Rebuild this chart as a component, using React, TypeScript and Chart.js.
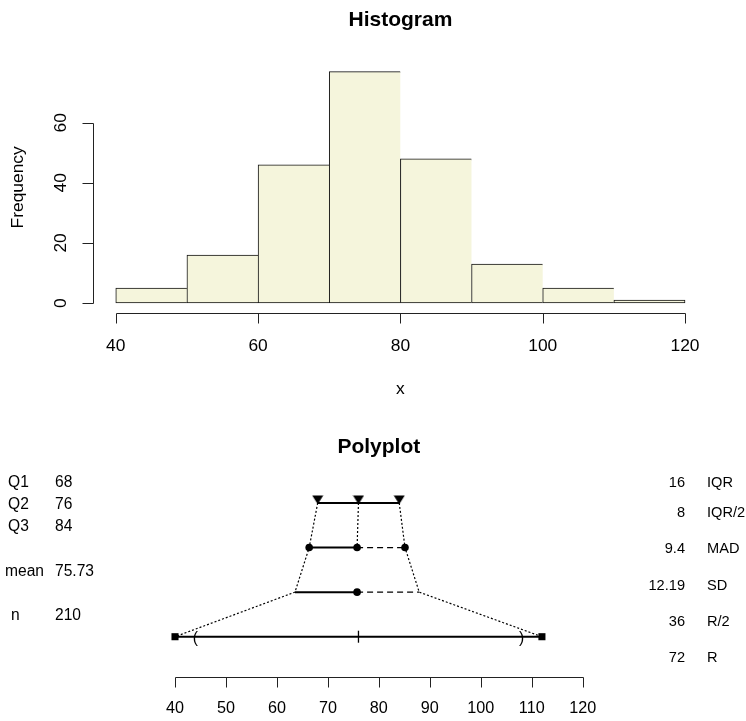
import React, { useEffect, useRef } from 'react';
import { Chart, registerables } from 'chart.js';

Chart.register(...registerables);

// ---------- data ----------
const binStarts = [40, 50, 60, 70, 80, 90, 100, 110];
const binWidth = 10;
const frequencies = [5, 16, 46, 77, 48, 13, 5, 1];
const histXTicks = [40, 60, 80, 100, 120];
const histYTicks = [0, 20, 40, 60];

const quartiles = [68, 76, 84];
const meanValue = 75.73;
const madValue = 9.4;
const sdValue = 12.19;
const rangeEnds = [40, 112];
const parenMarks = [44, 108];
const polyTicks = [40, 50, 60, 70, 80, 90, 100, 110, 120];

const leftLabels = ['Q1', 'Q2', 'Q3', 'mean', 'n'];
const leftValues = ['68', '76', '84', '75.73', '210'];
const rightValues = ['16', '8', '9.4', '12.19', '36', '72'];
const rightLabels = ['IQR', 'IQR/2', 'MAD', 'SD', 'R/2', 'R'];

// rows of the polyplot (y values)
const rowQuart = 4;
const rowMad = 3;
const rowSd = 2;
const rowRange = 1;

// ---------- layout ----------
const W = 746;
const H1 = 420;
const H2 = 301;
const FONT = '"Liberation Sans", Arial, sans-serif';
const leftLabelX = [8, 8, 8, 5, 11];
const leftLabelY = [62.7, 84.3, 106.7, 151.7, 195.3];
const rightY = [62.7, 93.3, 129.3, 165.7, 202.3, 238.3];

function makeTriangle(): HTMLCanvasElement {
  const c = document.createElement('canvas');
  c.width = 12;
  c.height = 20;
  const g = c.getContext('2d')!;
  g.fillStyle = '#000';
  g.beginPath();
  g.moveTo(0.5, 2.4);
  g.lineTo(11.5, 2.4);
  g.lineTo(6, 11.2);
  g.closePath();
  g.fill();
  return c;
}

const histAxesPlugin = {
  id: 'histAxes',
  afterDraw(chart: any) {
    const ctx = chart.ctx;
    const xs = chart.scales.x;
    const ys = chart.scales.y;
    const a = chart.chartArea;
    ctx.save();
    ctx.strokeStyle = '#222';
    ctx.fillStyle = '#000';
    ctx.lineWidth = 1;
    // y axis
    const xl = Math.round(a.left) + 0.5;
    ctx.beginPath();
    ctx.moveTo(xl, Math.round(ys.getPixelForValue(histYTicks[0])) + 0.5);
    ctx.lineTo(xl, Math.round(ys.getPixelForValue(histYTicks[histYTicks.length - 1])) + 0.5);
    histYTicks.forEach((t) => {
      const py = Math.round(ys.getPixelForValue(t)) + 0.5;
      ctx.moveTo(xl, py);
      ctx.lineTo(xl - 11, py);
    });
    // x axis
    const yb = Math.round(a.bottom + 1) + 0.5;
    ctx.moveTo(Math.round(xs.getPixelForValue(histXTicks[0])) + 0.5, yb);
    ctx.lineTo(Math.round(xs.getPixelForValue(histXTicks[histXTicks.length - 1])) + 0.5, yb);
    histXTicks.forEach((t) => {
      const px = Math.round(xs.getPixelForValue(t)) + 0.5;
      ctx.moveTo(px, yb);
      ctx.lineTo(px, yb + 10);
    });
    ctx.stroke();

    ctx.font = `17.4px ${FONT}`;
    ctx.textAlign = 'center';
    ctx.textBaseline = 'middle';
    histXTicks.forEach((t) => {
      ctx.fillText(String(t), xs.getPixelForValue(t), a.bottom + 34);
    });
    histYTicks.forEach((t) => {
      ctx.save();
      ctx.translate(a.left - 31.5, ys.getPixelForValue(t));
      ctx.rotate(-Math.PI / 2);
      ctx.fillText(String(t), 0, 0);
      ctx.restore();
    });
    // axis titles
    ctx.fillText('x', (a.left + a.right) / 2, a.bottom + 77);
    ctx.save();
    ctx.translate(18.5, (a.top + a.bottom) / 2);
    ctx.rotate(-Math.PI / 2);
    ctx.fillText('Frequency', 0, 0);
    ctx.restore();
    // main title
    ctx.font = `bold 21px ${FONT}`;
    ctx.fillText('Histogram', (a.left + a.right) / 2, 20);
    ctx.restore();
  },
};

const polyPlugin = {
  id: 'polyAxes',
  afterDraw(chart: any) {
    const ctx = chart.ctx;
    const xs = chart.scales.x;
    const ys = chart.scales.y;
    const a = chart.chartArea;
    ctx.save();
    ctx.strokeStyle = '#222';
    ctx.fillStyle = '#000';
    ctx.lineWidth = 1;
    const yb = Math.round(a.bottom + 18) + 0.5;
    ctx.beginPath();
    ctx.moveTo(Math.round(xs.getPixelForValue(polyTicks[0])) + 0.5, yb);
    ctx.lineTo(Math.round(xs.getPixelForValue(polyTicks[polyTicks.length - 1])) + 0.5, yb);
    polyTicks.forEach((t) => {
      const px = Math.round(xs.getPixelForValue(t)) + 0.5;
      ctx.moveTo(px, yb);
      ctx.lineTo(px, yb + 10);
    });
    ctx.stroke();
    ctx.font = `16.2px ${FONT}`;
    ctx.textAlign = 'center';
    ctx.textBaseline = 'middle';
    polyTicks.forEach((t) => {
      ctx.fillText(String(t), xs.getPixelForValue(t), a.bottom + 50);
    });
    // parentheses marks on the range row
    ctx.font = `15.6px ${FONT}`;
    parenMarks.forEach((v, i) => {
      ctx.fillText(i === 0 ? '(' : ')', xs.getPixelForValue(v), ys.getPixelForValue(rowRange) + 2);
    });
    // left statistics
    ctx.textAlign = 'left';
    leftLabels.forEach((l, i) => {
      ctx.fillText(l, leftLabelX[i], leftLabelY[i]);
      ctx.fillText(leftValues[i], 55, leftLabelY[i]);
    });
    // right statistics
    ctx.font = `14.6px ${FONT}`;
    rightValues.forEach((v, i) => {
      ctx.textAlign = 'right';
      ctx.fillText(v, 685, rightY[i]);
      ctx.textAlign = 'left';
      ctx.fillText(rightLabels[i], 707, rightY[i]);
    });
    // title
    ctx.textAlign = 'center';
    ctx.font = `bold 21px ${FONT}`;
    ctx.fillText(
      'Polyplot',
      (xs.getPixelForValue(polyTicks[0]) + xs.getPixelForValue(polyTicks[polyTicks.length - 1])) / 2,
      27
    );
    ctx.restore();
  },
};

export default function App() {
  const ref1 = useRef<HTMLCanvasElement>(null);
  const ref2 = useRef<HTMLCanvasElement>(null);

  useEffect(() => {
    const last = frequencies.length - 1;
    const hist = new Chart(ref1.current!, {
      type: 'bar',
      data: {
        datasets: [
          {
            data: frequencies.map((f, i) => ({ x: binStarts[i] + binWidth / 2, y: f })),
            backgroundColor: '#F5F5DC',
            borderColor: '#111',
            borderWidth: (c: any) => ({ top: 1, left: 1, bottom: 1, right: c.dataIndex === last ? 1 : 0 }),
            borderSkipped: false,
            barPercentage: 1,
            categoryPercentage: 1,
          } as any,
        ],
      },
      options: {
        animation: false,
        responsive: false,
        devicePixelRatio: 1,
        layout: { padding: { left: 93, right: W - 707.8, top: 62.4, bottom: H1 - 312.3 } },
        plugins: { legend: { display: false }, tooltip: { enabled: false } },
        scales: {
          x: { type: 'linear', min: 36.8, max: 123.2, offset: false, display: false },
          y: { min: -3.08, max: 80.08, display: false },
        },
      },
      plugins: [histAxesPlugin],
    } as any);

    const tri = makeTriangle();
    const madL = meanValue - madValue;
    const madR = meanValue + madValue;
    const sdL = meanValue - sdValue;
    const sdR = meanValue + sdValue;
    const dotted = { borderColor: '#000', borderWidth: 1.2, borderDash: [2, 2], pointRadius: 0, showLine: true, clip: false };
    const solid = { borderColor: '#000', borderWidth: 2, pointRadius: 0, showLine: true, clip: false };
    const dashed = { borderColor: '#000', borderWidth: 1.2, borderDash: [6, 4], pointRadius: 0, showLine: true, clip: false };
    const dots = { showLine: false, pointStyle: 'circle', pointRadius: 3.8, pointBackgroundColor: '#000', pointBorderColor: '#000', pointBorderWidth: 0, clip: false };

    const poly = new Chart(ref2.current!, {
      type: 'scatter',
      data: {
        datasets: [
          { ...dotted, data: [{ x: quartiles[0], y: rowQuart }, { x: madL, y: rowMad }, { x: sdL, y: rowSd }, { x: rangeEnds[0], y: rowRange }] },
          { ...dotted, data: [{ x: quartiles[1], y: rowQuart }, { x: meanValue, y: rowMad }] },
          { ...dotted, data: [{ x: quartiles[2], y: rowQuart }, { x: madR, y: rowMad }, { x: sdR, y: rowSd }, { x: rangeEnds[1], y: rowRange }] },
          { ...solid, data: [{ x: quartiles[0], y: rowQuart }, { x: quartiles[2], y: rowQuart }] },
          { ...solid, data: [{ x: madL, y: rowMad }, { x: meanValue, y: rowMad }] },
          { ...dashed, data: [{ x: meanValue, y: rowMad }, { x: madR, y: rowMad }] },
          { ...solid, data: [{ x: sdL, y: rowSd }, { x: meanValue, y: rowSd }] },
          { ...dashed, data: [{ x: meanValue, y: rowSd }, { x: sdR, y: rowSd }] },
          { ...solid, data: [{ x: rangeEnds[0], y: rowRange }, { x: rangeEnds[1], y: rowRange }] },
          {
            showLine: false, clip: false, pointStyle: 'line', pointRotation: 90, pointRadius: 6,
            pointBorderColor: '#000', pointBorderWidth: 1.3,
            data: [{ x: quartiles[1], y: rowRange }],
          },
          { ...dots, data: [{ x: madL, y: rowMad }, { x: meanValue, y: rowMad }, { x: madR, y: rowMad }] },
          { ...dots, data: [{ x: meanValue, y: rowSd }] },
          {
            showLine: false, clip: false, pointStyle: 'rect', pointRadius: 5,
            pointBackgroundColor: '#000', pointBorderColor: '#000', pointBorderWidth: 0,
            data: rangeEnds.map((v) => ({ x: v, y: rowRange })),
          },
          { showLine: false, clip: false, pointStyle: tri, pointRadius: 6, data: quartiles.map((q) => ({ x: q, y: rowQuart })) },
        ],
      },
      options: {
        animation: false,
        responsive: false,
        devicePixelRatio: 1,
        layout: { padding: { left: 158.7, right: W - 599, top: 60.7, bottom: H2 - 239 } },
        plugins: { legend: { display: false }, tooltip: { enabled: false } },
        scales: {
          x: { type: 'linear', min: 36.8, max: 123.2, display: false },
          y: { type: 'linear', min: 0.5, max: 4.5, display: false },
        },
      },
      plugins: [polyPlugin],
    } as any);

    return () => {
      hist.destroy();
      poly.destroy();
    };
  }, []);

  return (
    <div style={{ position: 'fixed', left: 0, top: 0, width: W, height: H1 + H2, background: '#fff' }}>
      <canvas ref={ref1} width={W} height={H1} style={{ position: 'absolute', left: 0, top: 0, width: W, height: H1 }} />
      <canvas ref={ref2} width={W} height={H2} style={{ position: 'absolute', left: 0, top: H1, width: W, height: H2 }} />
    </div>
  );
}
